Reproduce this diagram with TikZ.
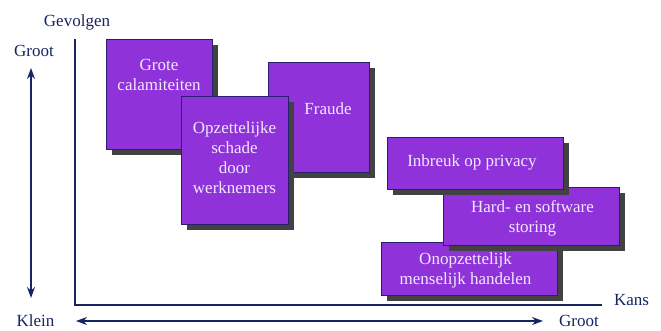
\documentclass[tikz,border=0pt]{standalone}
\usepackage{fontspec}
\setmainfont{Liberation Serif}
\usetikzlibrary{arrows.meta,shadows,calc}
\definecolor{navy}{RGB}{22,36,98}
\definecolor{riskfill}{RGB}{143,50,217}
\definecolor{riskline}{RGB}{40,30,110}
\definecolor{risktext}{RGB}{242,232,255}
\definecolor{shade}{RGB}{66,66,66}

\begin{document}
\begin{tikzpicture}[x=1pt,y=-1pt,
  font=\fontsize{17}{20}\selectfont,
  axis/.style={draw=navy,line width=1.3pt},
  scalearrow/.style={draw=navy,line width=1.3pt,
    {Stealth[length=11pt,width=8pt]}-{Stealth[length=11pt,width=8pt]}},
  risk/.style={draw=riskline,line width=0.9pt,fill=riskfill,inner sep=0pt,
    drop shadow={shadow xshift=6pt,shadow yshift=-6pt,fill=shade,opacity=1}},
  risklabel/.style={text=risktext,align=center,inner sep=0pt},
  axislabel/.style={text=navy,inner sep=0pt}]
  \useasboundingbox (0,0) rectangle (661,330);

  \coordinate(O) at (75, 305);
  \coordinate(Ytop) at (75, 39);
  \coordinate(Xend) at (602, 305);
  \coordinate(Vhi) at (31, 68);
  \coordinate(Vlo) at (31, 298);
  \coordinate(Hlo) at (76, 321);
  \coordinate(Hhi) at (543, 321);

\draw[axis] (Ytop) -- (O) -- (Xend);
\draw[scalearrow] (Vhi) -- (Vlo);
\draw[scalearrow] (Hlo) -- (Hhi);

\node[axislabel] (gevolgen) at (77, 22) {Gevolgen};
\node[axislabel] (kans) at (631.5, 300) {Kans};
\node[axislabel] (grootY) at (34, 51) {Groot};
\node[axislabel] (klein) at (35.5, 320.5) {Klein};
\node[axislabel] (grootX) at (579, 320.5) {Groot};

\node[risk, minimum width=106, minimum height=110] (grote) at (159, 94) {};
\node[risklabel] (groteT) at (159, 75) {Grote\\calamiteiten};
\node[risk, minimum width=101, minimum height=110] (fraude) at (318.5, 117) {};
\node[risklabel] (fraudeT) at (328, 109) {Fraude};
\node[risk, minimum width=107, minimum height=128] (opzet) at (234.5, 160) {};
\node[risklabel] (opzetT) at (234.5, 157.5) {Opzettelijke\\schade\\door\\werknemers};
\node[risk, minimum width=176, minimum height=53] (onopzet) at (469, 268.5) {};
\node[risklabel] (onopzetT) at (465.5, 270) {Onopzettelijk\\menselijk handelen};
\node[risk, minimum width=176, minimum height=58] (storing) at (531, 216) {};
\node[risklabel] (storingT) at (532.5, 218) {Hard- en software\\storing};
\node[risk, minimum width=176, minimum height=52] (privacy) at (475, 163) {};
\node[risklabel] (privacyT) at (472, 162.5) {Inbreuk op privacy};
\end{tikzpicture}
\end{document}
